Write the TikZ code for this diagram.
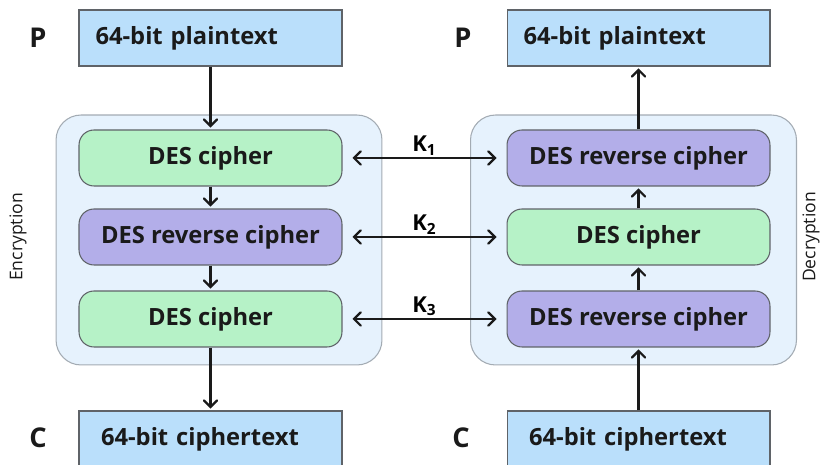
\documentclass[tikz,border=0pt]{standalone}
\usepackage{fontspec}
\setmainfont{Open Sans}
\usepackage{xcolor}
\usetikzlibrary{arrows}

\definecolor{textblue}{HTML}{BADFFB}
\definecolor{panelblue}{HTML}{E6F2FD}
\definecolor{desgreen}{HTML}{B6F2C7}
\definecolor{despurple}{HTML}{B3AEE9}
\definecolor{edgegray}{HTML}{5F6368}
\definecolor{panelgray}{HTML}{A3ABB3}
\definecolor{inkblack}{HTML}{1A1A1A}

\tikzset{
  textbox/.style={draw=edgegray, line width=0.6pt, fill=textblue, minimum width=5.26cm, minimum height=1.12cm,
    text width=4.6cm, inner xsep=0.33cm, align=left, text=inkblack, font=\bfseries\fontsize{13.5}{15}\selectfont},
  cipherbox/.style={draw=edgegray, line width=0.6pt, rounded corners=0.3cm, minimum width=5.26cm, minimum height=1.12cm,
    text=inkblack, font=\bfseries\fontsize{13.5}{15}\selectfont},
  panel/.style={draw=panelgray, line width=0.6pt, fill=panelblue, rounded corners=0.5cm, minimum width=6.52cm, minimum height=5cm},
  letter/.style={text=inkblack, font=\bfseries\fontsize{15.5}{17}\selectfont},
  side/.style={rotate=90, inner sep=0pt, text=inkblack, font=\fontsize{10}{12}\selectfont}
}

\begin{document}
\begin{tikzpicture}[x=0.02cm,y=-0.02cm]
		\useasboundingbox (0,0) rectangle (822,465);
		\clip (0,0) rectangle (822,465);
		%
		\node[panel] (EncPanel) at (219,240) {};
		\node[panel] (DecPanel) at (633.5,240) {};
		%
		\node[letter] (P) at (38,38) {P};
		\node[textbox] (Plain) at (210.5,38) {64-bit plaintext};
		\node[cipherbox,fill=desgreen] (E1) at (210.5,158) {DES cipher};
		\node[cipherbox,fill=despurple] (E2) at (210.5,237) {DES reverse cipher};
		\node[cipherbox,fill=desgreen] (E3) at (210.5,319) {DES cipher};
		\node[textbox,text width=4.38cm,inner xsep=0.44cm] (Cipher) at (210.5,439) {64-bit ciphertext};
		\node[letter] (C) at (38,438) {C};
		%
		\node[letter] (P') at (463,38) {P};
		\node[textbox] (Plain') at (638.5,38) {64-bit plaintext};
		\node[cipherbox,fill=despurple] (D1) at (638.5,158) {DES reverse cipher};
		\node[cipherbox,fill=desgreen] (D2) at (638.5,237) {DES cipher};
		\node[cipherbox,fill=despurple] (D3) at (638.5,319) {DES reverse cipher};
		\node[textbox,text width=4.38cm,inner xsep=0.44cm] (Cipher') at (638.5,439) {64-bit ciphertext};
		\node[letter] (C') at (461,438) {C};
		%
		\node[side] (Enc) at (18,237) {Encryption};
		\node[side,anchor=south] (Dec) at (820,237) {Decryption};
		%
		\path[->,>=angle 90,line width=1.3pt,draw=inkblack,shorten >=1pt,font=\bfseries\fontsize{12.5}{14}\selectfont]
		(Plain) edge (E1)
		(E1) edge (E2)
		(E2) edge (E3)
		(E3) edge (Cipher)
		(Cipher') edge (D3)
		(D3) edge (D2)
		(D2) edge (D1)
		(D1) edge (Plain');
		%
		\path[<->,>=angle 90,line width=1.3pt,draw=inkblack,shorten >=0.2cm,shorten <=0.2cm,font=\bfseries\fontsize{12.5}{14}\selectfont]
		(E1) edge node[above,inner sep=1pt]{K\textsubscript{1}} (D1)
		(E2) edge node[above,inner sep=1pt]{K\textsubscript{2}} (D2)
		(E3) edge node[above,inner sep=1pt]{K\textsubscript{3}} (D3);
\end{tikzpicture}
\end{document}
